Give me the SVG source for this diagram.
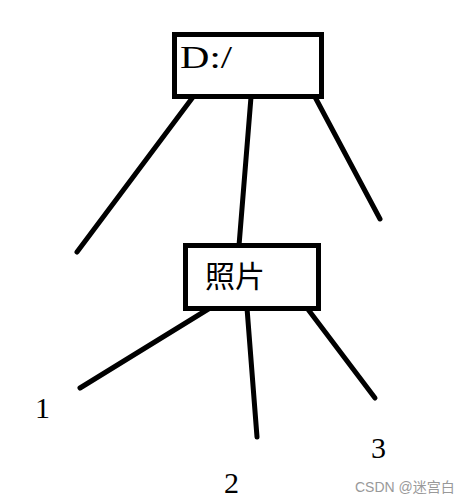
<svg xmlns="http://www.w3.org/2000/svg" width="467" height="502" viewBox="0 0 467 502">
<style>
.box{fill:#fff;stroke:#000;stroke-width:5}
.ln{stroke:#000;stroke-width:5;stroke-linecap:round;fill:none}
.t{font-family:"Liberation Serif","Noto Sans CJK SC",serif;fill:#000}
.wm{font-family:"Liberation Sans","Noto Sans CJK SC",sans-serif;fill:#999;font-size:14px}
</style>
<rect width="467" height="502" fill="#fff"/>
<g id="connectors">
<line class="ln" x1="193" y1="97" x2="77" y2="252"/>
<line class="ln" x1="251" y1="97" x2="238" y2="258"/>
<line class="ln" x1="315" y1="97" x2="380" y2="219"/>
<line class="ln" x1="210" y1="308" x2="80" y2="388"/>
<line class="ln" x1="247" y1="308" x2="257" y2="437"/>
<line class="ln" x1="307" y1="308" x2="375" y2="398"/>
</g>
<g id="root">
<rect class="box" x="174.5" y="34.5" width="147" height="62"/>
<text class="t" x="180" y="68" font-size="31" textLength="52" lengthAdjust="spacingAndGlyphs">D:/</text>
</g>
<g id="photo">
<rect class="box" x="185.5" y="245.5" width="133" height="63"/>
<text class="t" x="205" y="287" font-size="30">照片</text>
</g>
<g id="leaf1"><text class="t" x="35" y="418" font-size="30">1</text></g>
<g id="leaf2"><text class="t" x="224" y="493" font-size="30">2</text></g>
<g id="leaf3"><text class="t" x="371" y="458" font-size="30">3</text></g>
<text class="wm" x="355" y="492">CSDN @迷宫白</text>
</svg>
